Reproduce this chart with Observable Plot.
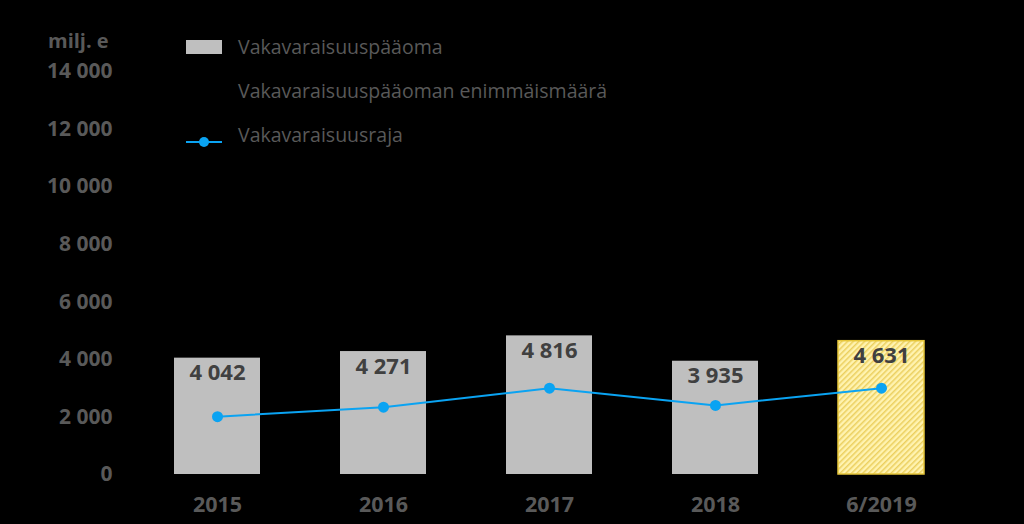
<!DOCTYPE html>
<html>
<head>
<meta charset="utf-8">
<script src="https://cdn.jsdelivr.net/npm/d3@7"></script>
<script src="https://cdn.jsdelivr.net/npm/@observablehq/plot@0.6"></script>
<style>
  html, body { margin: 0; padding: 0; background: #000; }
  #wrap { position: relative; width: 1024px; height: 524px; background: #000; font-family: "Open Sans", sans-serif; }
  #unit { position: absolute; left: 48px; top: 27px; font-size: 20px; font-weight: bold; color: #595959; }
  .leg { position: absolute; left: 186px; font-size: 19.5px; color: #595959; display: flex; align-items: center; }
  .leg .sw { width: 36px; height: 14px; margin-right: 16px; position: relative; }
  .leg span.t { white-space: nowrap; }
</style>
</head>
<body>
<div id="wrap">
  <div id="chart"></div>
  <div id="unit">milj. e</div>
  <div id="legend"></div>
</div>
<script>
const categories = ["2015", "2016", "2017", "2018", "6/2019"];
const capital = [4042, 4271, 4816, 3935, 4631];
const limit = [2010, 2340, 3000, 2400, 3000];
const yTicks = [0, 2000, 4000, 6000, 8000, 10000, 12000, 14000];
const seriesNames = ["Vakavaraisuuspääoma", "Vakavaraisuuspääoman enimmäismäärä", "Vakavaraisuusraja"];

const rows = categories.map((c, i) => ({cat: c, capital: capital[i], limit: limit[i], last: i === categories.length - 1}));
const fmt = v => d3.format(",")(v).replace(/,/g, " ");

const chart = Plot.plot({
  width: 1024,
  height: 524,
  marginLeft: 134,
  marginRight: 59,
  marginTop: 71,
  marginBottom: 50,
  style: {background: "#000", fontFamily: "Open Sans, sans-serif"},
  x: {domain: categories, paddingInner: 0.48, paddingOuter: 0.24, label: null},
  y: {domain: [0, 14000], label: null},
  marks: [
    Plot.axisX({tickSize: 0, tickPadding: 22, fontSize: 21.5, fontWeight: "bold", fill: "#595959", label: null}),
    Plot.axisY({ticks: yTicks, tickFormat: fmt, tickSize: 0, tickPadding: 22, fontSize: 21, fontWeight: "bold", fill: "#595959", label: null}),
    Plot.barY(rows.filter(d => !d.last), {x: "cat", y: "capital", fill: "#bfbfbf"}),
    Plot.barY(rows.filter(d => d.last), {x: "cat", y: "capital", fill: "url(#hatch)", stroke: "#e6c63a", strokeWidth: 1.5}),
    Plot.line(rows, {x: "cat", y: "limit", stroke: "#0aa3f2", strokeWidth: 2}),
    Plot.dot(rows, {x: "cat", y: "limit", r: 5.5, fill: "#0aa3f2"}),
    Plot.text(rows, {x: "cat", y: "capital", text: d => fmt(d.capital), dy: 15, fontSize: 22, fontWeight: "bold", fill: "#404040"})
  ]
});

const ns = "http://www.w3.org/2000/svg";
const defs = document.createElementNS(ns, "defs");
defs.innerHTML = `<pattern id="hatch" patternUnits="userSpaceOnUse" width="4" height="4" patternTransform="rotate(45)">
  <rect width="4" height="4" fill="#fff3b0"></rect>
  <rect width="1.5" height="4" fill="#ebcf5e"></rect>
</pattern>`;
chart.insertBefore(defs, chart.firstChild);
document.getElementById("chart").appendChild(chart);

const legend = document.getElementById("legend");
const tops = [33, 77, 121];
seriesNames.forEach((name, i) => {
  const row = document.createElement("div");
  row.className = "leg";
  row.style.top = tops[i] + "px";
  const sw = document.createElement("div");
  sw.className = "sw";
  if (i === 0) sw.style.background = "#bfbfbf";
  if (i === 2) {
    sw.innerHTML = `<svg width="36" height="14"><line x1="0" y1="7" x2="36" y2="7" stroke="#0aa3f2" stroke-width="2"/><circle cx="18" cy="7" r="5" fill="#0aa3f2"/></svg>`;
  }
  const t = document.createElement("span");
  t.className = "t";
  t.textContent = name;
  row.appendChild(sw);
  row.appendChild(t);
  legend.appendChild(row);
});
</script>
</body>
</html>
